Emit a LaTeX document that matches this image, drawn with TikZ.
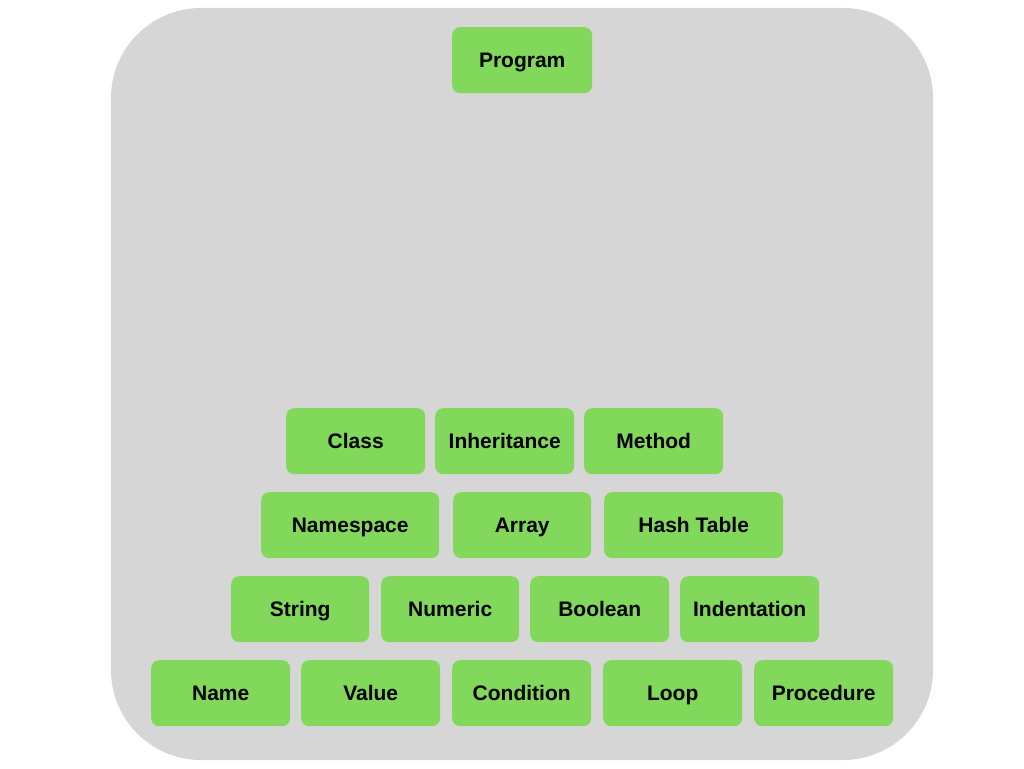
\documentclass[tikz,border=0pt]{standalone}
\usepackage{fontspec}
\setmainfont{Liberation Sans}
\definecolor{boxgreen}{RGB}{130,216,90}
\definecolor{bggray}{RGB}{214,214,214}
\tikzset{
  blk/.style={fill=boxgreen, draw=none, rounded corners=8pt, minimum height=66pt,
    inner sep=0pt, text height=15pt, text depth=0pt,
    font=\fontsize{21}{25}\selectfont\bfseries, text=black, anchor=north west},
}
\begin{document}
\begin{tikzpicture}[x=1pt,y=1pt]
\useasboundingbox (0,0) rectangle (1024,-768);
\fill[bggray, rounded corners=90pt] (111,-8) rectangle (933,-760);
\node[blk, minimum width=140pt] (program) at (452,-27) {Program};
% row 1
\node[blk, minimum width=139pt] (class) at (286,-408) {Class};
\node[blk, minimum width=139pt] (inherit) at (435,-408) {Inheritance};
\node[blk, minimum width=139pt] (method) at (584,-408) {Method};
% row 2
\node[blk, minimum width=178pt] (namespace) at (261,-492) {Namespace};
\node[blk, minimum width=138pt] (array) at (453,-492) {Array};
\node[blk, minimum width=179pt] (hash) at (604,-492) {Hash Table};
% row 3
\node[blk, minimum width=138pt] (string) at (231,-576) {String};
\node[blk, minimum width=138pt] (numeric) at (381,-576) {Numeric};
\node[blk, minimum width=139pt] (boolean) at (530,-576) {Boolean};
\node[blk, minimum width=139pt] (indent) at (680,-576) {Indentation};
% row 4
\node[blk, minimum width=139pt] (name) at (151,-660) {Name};
\node[blk, minimum width=139pt] (value) at (301,-660) {Value};
\node[blk, minimum width=139pt] (condition) at (452,-660) {Condition};
\node[blk, minimum width=139pt] (loop) at (603,-660) {Loop};
\node[blk, minimum width=139pt] (procedure) at (754,-660) {Procedure};
\end{tikzpicture}
\end{document}
